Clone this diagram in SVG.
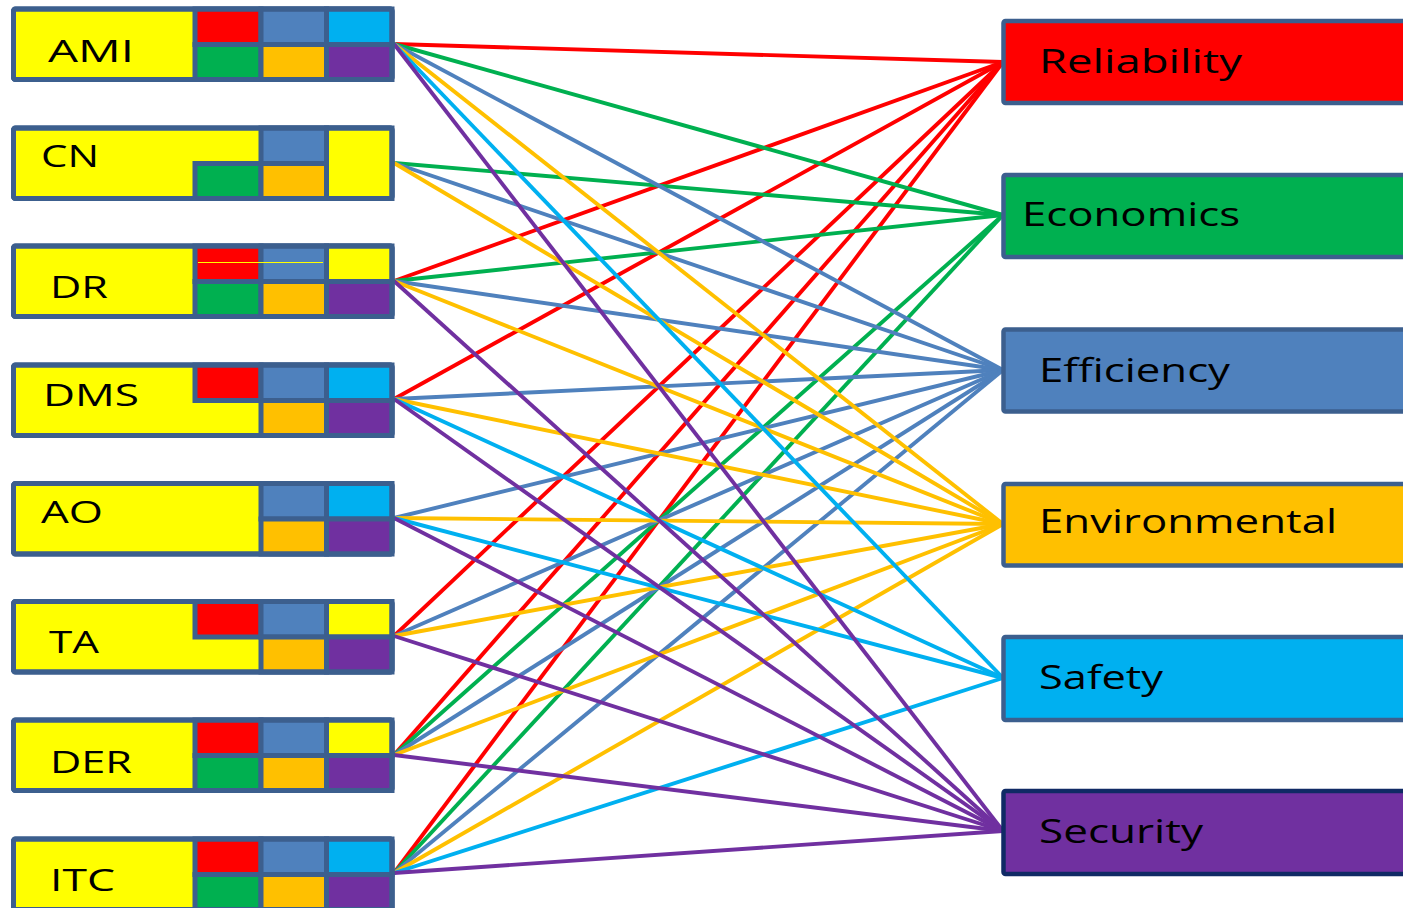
<svg xmlns="http://www.w3.org/2000/svg" width="1403" height="908" viewBox="0 0 1403 908">
  <style>
    .frame { fill: #FFFF00; stroke: #3C5F8E; stroke-width: 5; }
    .edge { fill: none; stroke: #3C5F8E; stroke-width: 5; }
    .cell { stroke: #3C5F8E; stroke-width: 5; }
    .box { stroke: #3C5F8E; stroke-width: 4.5; }
    .lbl { font-family: "Open Sans", "DejaVu Sans", sans-serif; font-size: 31px; fill: #000; }
    .rlbl { font-family: "Open Sans", "DejaVu Sans", sans-serif; font-size: 33px; fill: #000; }
    .r { fill: #FF0000; } .g { fill: #00B050; } .b { fill: #4F81BD; }
    .o { fill: #FFC000; } .c { fill: #00B0F0; } .p { fill: #7030A0; } .y { fill: #FFFF00; }
    .lr { stroke: #FF0000; } .lg { stroke: #00B050; } .lb { stroke: #4F81BD; }
    .lo { stroke: #FFC000; } .lc { stroke: #00B0F0; } .lp { stroke: #7030A0; }
    #connectors line { stroke-width: 3.9; fill: none; }
  </style>

  <!-- connectors: component -> objective, coloured by objective -->
  <g id="connectors">
    <!-- Reliability -->
    <line class="lr" x1="394" y1="44" x2="1003" y2="62"/>
    <line class="lr" x1="394" y1="281" x2="1003" y2="62"/>
    <line class="lr" x1="394" y1="399" x2="1003" y2="62"/>
    <line class="lr" x1="394" y1="636" x2="1003" y2="62"/>
    <line class="lr" x1="394" y1="755" x2="1003" y2="62"/>
    <line class="lr" x1="394" y1="873" x2="1003" y2="62"/>
    <!-- Economics -->
    <line class="lg" x1="394" y1="44" x2="1003" y2="215"/>
    <line class="lg" x1="394" y1="163" x2="1003" y2="215"/>
    <line class="lg" x1="394" y1="281" x2="1003" y2="215"/>
    <line class="lg" x1="394" y1="755" x2="1003" y2="215"/>
    <line class="lg" x1="394" y1="873" x2="1003" y2="215"/>
    <!-- Efficiency -->
    <line class="lb" x1="394" y1="44" x2="1003" y2="370"/>
    <line class="lb" x1="394" y1="163" x2="1003" y2="370"/>
    <line class="lb" x1="394" y1="281" x2="1003" y2="370"/>
    <line class="lb" x1="394" y1="399" x2="1003" y2="370"/>
    <line class="lb" x1="394" y1="518" x2="1003" y2="370"/>
    <line class="lb" x1="394" y1="636" x2="1003" y2="370"/>
    <line class="lb" x1="394" y1="755" x2="1003" y2="370"/>
    <line class="lb" x1="394" y1="873" x2="1003" y2="370"/>
    <!-- Environmental -->
    <line class="lo" x1="394" y1="44" x2="1003" y2="524"/>
    <line class="lo" x1="394" y1="163" x2="1003" y2="524"/>
    <line class="lo" x1="394" y1="281" x2="1003" y2="524"/>
    <line class="lo" x1="394" y1="399" x2="1003" y2="524"/>
    <line class="lo" x1="394" y1="518" x2="1003" y2="524"/>
    <line class="lo" x1="394" y1="636" x2="1003" y2="524"/>
    <line class="lo" x1="394" y1="755" x2="1003" y2="524"/>
    <line class="lo" x1="394" y1="873" x2="1003" y2="524"/>
    <!-- Safety -->
    <line class="lc" x1="394" y1="44" x2="1003" y2="678"/>
    <line class="lc" x1="394" y1="399" x2="1003" y2="678"/>
    <line class="lc" x1="394" y1="518" x2="1003" y2="678"/>
    <line class="lc" x1="394" y1="873" x2="1003" y2="678"/>
    <!-- Security -->
    <line class="lp" x1="394" y1="44" x2="1003" y2="831"/>
    <line class="lp" x1="394" y1="281" x2="1003" y2="831"/>
    <line class="lp" x1="394" y1="399" x2="1003" y2="831"/>
    <line class="lp" x1="394" y1="518" x2="1003" y2="831"/>
    <line class="lp" x1="394" y1="636" x2="1003" y2="831"/>
    <line class="lp" x1="394" y1="755" x2="1003" y2="831"/>
    <line class="lp" x1="394" y1="873" x2="1003" y2="831"/>
  </g>

  <!-- component nodes: label area + 2x3 objective grid -->
  <g id="node-ami">
    <rect class="frame" x="13.5" y="9" width="378.5" height="70.5" rx="2"/>
    <rect class="cell r" x="195" y="9" width="66" height="35.5"/>
    <rect class="cell b" x="261" y="9" width="65.5" height="35.5"/>
    <rect class="cell c" x="326.5" y="9" width="65.5" height="35.5"/>
    <rect class="cell g" x="195" y="44.5" width="66" height="35"/>
    <rect class="cell o" x="261" y="44.5" width="65.5" height="35"/>
    <rect class="cell p" x="326.5" y="44.5" width="65.5" height="35"/>
    <rect class="edge" x="13.5" y="9" width="378.5" height="70.5" rx="2"/>
    <text class="lbl" x="48" y="62" textLength="86" lengthAdjust="spacingAndGlyphs">AMI</text>
  </g>

  <g id="node-cn">
    <rect class="frame" x="13.5" y="128" width="378.5" height="70.5" rx="2"/>
    <rect class="cell b" x="261" y="128" width="65.5" height="35.5"/>
    <rect class="cell y" x="326.5" y="128" width="65.5" height="70.5"/>
    <rect class="cell g" x="195" y="163.5" width="66" height="35"/>
    <rect class="cell o" x="261" y="163.5" width="65.5" height="35"/>
    <rect class="edge" x="13.5" y="128" width="378.5" height="70.5" rx="2"/>
    <text class="lbl" x="41" y="167" textLength="58" lengthAdjust="spacingAndGlyphs">CN</text>
  </g>

  <g id="node-dr">
    <rect class="frame" x="13.5" y="246" width="378.5" height="70.5" rx="2"/>
    <rect class="cell r" x="195" y="246" width="66" height="35.5"/>
    <rect class="cell b" x="261" y="246" width="65.5" height="35.5"/>
    <rect class="cell y" x="326.5" y="246" width="65.5" height="35.5"/>
    <rect class="cell g" x="195" y="281.5" width="66" height="35"/>
    <rect class="cell o" x="261" y="281.5" width="65.5" height="35"/>
    <rect class="cell p" x="326.5" y="281.5" width="65.5" height="35"/>
    <line x1="198" y1="262.5" x2="323" y2="262.5" stroke="#FFFF00" stroke-width="1"/>
    <rect class="edge" x="13.5" y="246" width="378.5" height="70.5" rx="2"/>
    <text class="lbl" x="50" y="298" textLength="58" lengthAdjust="spacingAndGlyphs">DR</text>
  </g>

  <g id="node-dms">
    <rect class="frame" x="13.5" y="365" width="378.5" height="70.5" rx="2"/>
    <rect class="cell r" x="195" y="365" width="66" height="35.5"/>
    <rect class="cell b" x="261" y="365" width="65.5" height="35.5"/>
    <rect class="cell c" x="326.5" y="365" width="65.5" height="35.5"/>
    <rect class="cell o" x="261" y="400.5" width="65.5" height="35"/>
    <rect class="cell p" x="326.5" y="400.5" width="65.5" height="35"/>
    <rect class="edge" x="13.5" y="365" width="378.5" height="70.5" rx="2"/>
    <text class="lbl" x="43" y="406" textLength="96" lengthAdjust="spacingAndGlyphs">DMS</text>
  </g>

  <g id="node-ao">
    <rect class="frame" x="13.5" y="483.5" width="378.5" height="70.5" rx="2"/>
    <rect class="cell b" x="261" y="483.5" width="65.5" height="35.5"/>
    <rect class="cell c" x="326.5" y="483.5" width="65.5" height="35.5"/>
    <rect class="cell o" x="261" y="519" width="65.5" height="35"/>
    <rect class="cell p" x="326.5" y="519" width="65.5" height="35"/>
    <rect class="edge" x="13.5" y="483.5" width="378.5" height="70.5" rx="2"/>
    <text class="lbl" x="41" y="523" textLength="62" lengthAdjust="spacingAndGlyphs">AO</text>
  </g>

  <g id="node-ta">
    <rect class="frame" x="13.5" y="601.5" width="378.5" height="70.5" rx="2"/>
    <rect class="cell r" x="195" y="601.5" width="66" height="35.5"/>
    <rect class="cell b" x="261" y="601.5" width="65.5" height="35.5"/>
    <rect class="cell y" x="326.5" y="601.5" width="65.5" height="35.5"/>
    <rect class="cell o" x="261" y="637" width="65.5" height="35"/>
    <rect class="cell p" x="326.5" y="637" width="65.5" height="35"/>
    <rect class="edge" x="13.5" y="601.5" width="378.5" height="70.5" rx="2"/>
    <text class="lbl" x="49" y="653" textLength="50" lengthAdjust="spacingAndGlyphs">TA</text>
  </g>

  <g id="node-der">
    <rect class="frame" x="13.5" y="720" width="378.5" height="70.5" rx="2"/>
    <rect class="cell r" x="195" y="720" width="66" height="35.5"/>
    <rect class="cell b" x="261" y="720" width="65.5" height="35.5"/>
    <rect class="cell y" x="326.5" y="720" width="65.5" height="35.5"/>
    <rect class="cell g" x="195" y="755.5" width="66" height="35"/>
    <rect class="cell o" x="261" y="755.5" width="65.5" height="35"/>
    <rect class="cell p" x="326.5" y="755.5" width="65.5" height="35"/>
    <rect class="edge" x="13.5" y="720" width="378.5" height="70.5" rx="2"/>
    <text class="lbl" x="50" y="773" textLength="82" lengthAdjust="spacingAndGlyphs">DER</text>
  </g>

  <g id="node-itc">
    <rect class="frame" x="13.5" y="839" width="378.5" height="70.5" rx="2"/>
    <rect class="cell r" x="195" y="839" width="66" height="35.5"/>
    <rect class="cell b" x="261" y="839" width="65.5" height="35.5"/>
    <rect class="cell c" x="326.5" y="839" width="65.5" height="35.5"/>
    <rect class="cell g" x="195" y="874.5" width="66" height="35"/>
    <rect class="cell o" x="261" y="874.5" width="65.5" height="35"/>
    <rect class="cell p" x="326.5" y="874.5" width="65.5" height="35"/>
    <rect class="edge" x="13.5" y="839" width="378.5" height="70.5" rx="2"/>
    <text class="lbl" x="50" y="891" textLength="65" lengthAdjust="spacingAndGlyphs">ITC</text>
  </g>

  <!-- objective nodes -->
  <g id="node-reliability">
    <rect class="box r" x="1003.5" y="21" width="420" height="82" rx="2"/>
    <text class="rlbl" x="1039" y="73" textLength="203" lengthAdjust="spacingAndGlyphs">Reliability</text>
  </g>
  <g id="node-economics">
    <rect class="box g" x="1003.5" y="175" width="420" height="82" rx="2"/>
    <text class="rlbl" x="1022" y="226" textLength="218" lengthAdjust="spacingAndGlyphs">Economics</text>
  </g>
  <g id="node-efficiency">
    <rect class="box b" x="1003.5" y="329.5" width="420" height="82" rx="2"/>
    <text class="rlbl" x="1039" y="382" textLength="191" lengthAdjust="spacingAndGlyphs">Efficiency</text>
  </g>
  <g id="node-environmental">
    <rect class="box o" x="1003.5" y="484" width="420" height="81.5" rx="2"/>
    <text class="rlbl" x="1039" y="533" textLength="298" lengthAdjust="spacingAndGlyphs">Environmental</text>
  </g>
  <g id="node-safety">
    <rect class="box c" x="1003.5" y="637" width="420" height="83" rx="2"/>
    <text class="rlbl" x="1039" y="689" textLength="124" lengthAdjust="spacingAndGlyphs">Safety</text>
  </g>
  <g id="node-security">
    <rect class="box p" x="1003.5" y="791" width="420" height="83" rx="2" style="stroke:#102A65"/>
    <text class="rlbl" x="1039" y="843" textLength="164" lengthAdjust="spacingAndGlyphs">Security</text>
  </g>
</svg>
